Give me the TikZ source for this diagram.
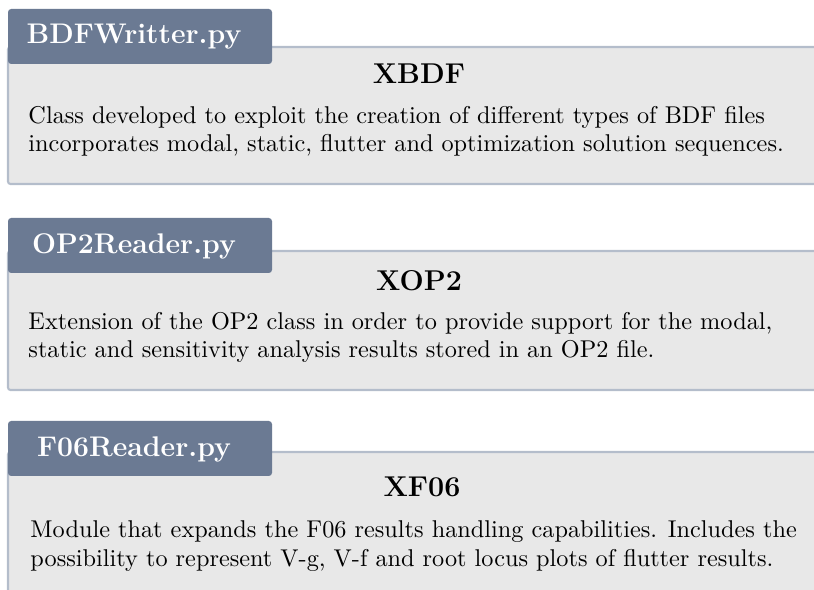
\documentclass[tikz,border=0pt]{standalone}
\definecolor{tabcol}{RGB}{107,122,147}
\definecolor{boxfill}{RGB}{232,232,232}
\definecolor{boxline}{RGB}{180,189,203}
\tikzset{
  panel/.style={fill=boxfill, draw=boxline, line width=0.85pt, rounded corners=1pt},
  tabbox/.style={fill=tabcol, rounded corners=1.3pt},
  tabtext/.style={text=white, font=\fontsize{11.7}{14}\selectfont\bfseries, inner sep=0pt},
  ttl/.style={font=\fontsize{11.8}{14}\selectfont\bfseries, anchor=base, inner sep=0pt},
  body/.style={font=\fontsize{10}{12}\selectfont, anchor=base west, inner sep=0pt}
}
\begin{document}
\begin{tikzpicture}[x=0.412pt, y=-0.412pt]
\useasboundingbox (0,0) rectangle (814,590);
\clip (0,0) rectangle (814,590);
% panel 1
\path[panel] (8,47) rectangle (860,184);
\path[tabbox] (8,9) rectangle (272,64);
\node[tabtext] (t1) at (134,37) {BDFWritter.py};
\node[ttl] (h1) at (419,84) {XBDF};
\node[body] (a1) at (28,124) {Class developed to exploit the creation of different types of BDF files};
\node[body] (b1) at (28,152) {incorporates modal, static, flutter and optimization solution sequences.};
% panel 2
\path[panel] (8,251) rectangle (860,390);
\path[tabbox] (8,218) rectangle (272,273);
\node[tabtext] (t2) at (134,246) {OP2Reader.py};
\node[ttl] (h2) at (419,291) {XOP2};
\node[body] (a2) at (28,330) {Extension of the OP2 class in order to provide support for the modal,};
\node[body] (b2) at (28,358) {static and sensitivity analysis results stored in an OP2 file.};
% panel 3
\path[panel] (8,452) rectangle (860,640);
\path[tabbox] (8,421) rectangle (272,476);
\node[tabtext] (t3) at (134,449) {F06Reader.py};
\node[ttl] (h3) at (422,497) {XF06};
\node[body] (a3) at (30,538) {Module that expands the F06 results handling capabilities. Includes the};
\node[body] (b3) at (30,567) {possibility to represent V-g, V-f and root locus plots of flutter results.};
\end{tikzpicture}
\end{document}
